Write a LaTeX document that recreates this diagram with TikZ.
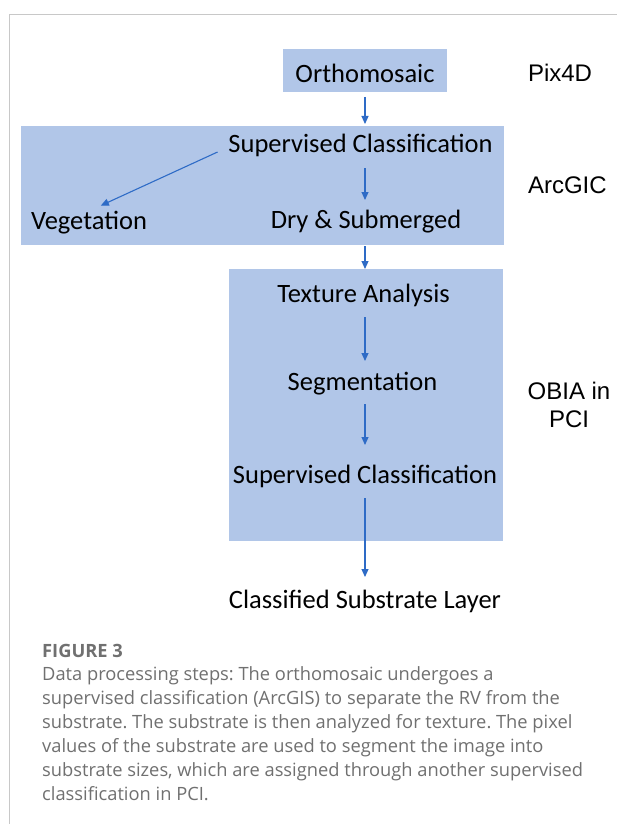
\documentclass[tikz,border=0pt]{standalone}
\usepackage{fontspec}
\setmainfont{Carlito}
\newfontfamily\arialf{Liberation Sans}
\newfontfamily\capf{Open Sans}
\usetikzlibrary{arrows.meta}
\definecolor{boxblue}{HTML}{B1C6E8}
\definecolor{arrblue}{HTML}{2E6BC6}
\definecolor{capgray}{HTML}{707070}
\definecolor{framegray}{HTML}{C8C8C8}
\begin{document}
\frenchspacing
\begin{tikzpicture}[x=1pt,y=-1pt,
  box/.style={fill=boxblue, draw=none, inner sep=0pt, outer sep=0pt},
  lbl/.style={font=\fontsize{26.5}{30}\selectfont, inner sep=0pt, outer sep=0pt, text height=18pt, text depth=6pt, anchor=base},
  tool/.style={font=\arialf\fontsize{24}{28}\selectfont, inner sep=0pt, outer sep=0pt},
  arr/.style={draw=arrblue, line width=1.1pt, -{Triangle[width=7pt,length=8pt]}}]
\useasboundingbox (0,0) rectangle (617,824);
\fill[white] (0,0) rectangle (617,824);
\draw[framegray, line width=1pt] (9,824) -- (9,15) -- (617,15);
% boxes
\node[box, minimum width=164pt, minimum height=43pt] (orthobox) at (365,70.5) {};
\node[box, minimum width=483pt, minimum height=119pt] (arcbox) at (262.5,185.5) {};
\node[box, minimum width=274pt, minimum height=272pt] (obiabox) at (366,405) {};
% labels
\node[lbl] (ortho) at (365,83) {Orthomosaic};
\node[lbl] (sc1) at (360.5,153) {Supervised Classification};
\node[lbl] (veg) at (89,229) {Vegetation};
\node[lbl] (ds) at (366,228) {Dry \& Submerged};
\node[lbl] (ta) at (363.5,302) {Texture Analysis};
\node[lbl] (seg) at (362.5,390) {Segmentation};
\node[lbl] (sc2) at (365,483) {Supervised Classification};
\node[lbl] (csl) at (365,608) {Classified Substrate Layer};
% tools
\node[tool, anchor=base west] (pix) at (528,82) {Pix4D};
\node[tool, anchor=base west] (arc) at (528,193) {ArcGIC};
\node[tool, anchor=base] (obia) at (569,399) {OBIA in};
\node[tool, anchor=base] (pci) at (569,427) {PCI};
% arrows
\draw[arr, shorten <=5pt, shorten >=2pt] (orthobox.south) -- (orthobox.south |- arcbox.north);
\draw[arr, shorten <=9pt, shorten >=10pt] (sc1.south -| orthobox.south) -- (ds.north -| orthobox.south);
\draw[arr, shorten <=12pt, shorten >=13pt] (sc1.west) -- (veg.north);
\draw[arr, shorten <=1pt] (arcbox.south -| orthobox.south) -- (obiabox.north -| orthobox.south);
\draw[arr, shorten <=9pt, shorten >=11pt] (ta.south -| orthobox.south) -- (seg.north -| orthobox.south);
\draw[arr, shorten <=8pt, shorten >=20pt] (seg.south -| orthobox.south) -- (sc2.north -| orthobox.south);
\draw[arr, shorten <=9pt, shorten >=13pt] (sc2.south -| orthobox.south) -- (csl.north -| orthobox.south);
% caption
\node[anchor=base west, inner sep=0pt, align=left, text=capgray, font=\capf\fontsize{18.3}{24}\selectfont] (cap) at (42,800)
 {{\bfseries FIGURE 3}\\[-1pt]
 Data processing steps: The orthomosaic undergoes a\\
 supervised classification (ArcGIS) to separate the RV from the\\
 substrate. The substrate is then analyzed for texture. The pixel\\
 values of the substrate are used to segment the image into\\
 substrate sizes, which are assigned through another supervised\\
 classification in PCI.};
\end{tikzpicture}
\end{document}
